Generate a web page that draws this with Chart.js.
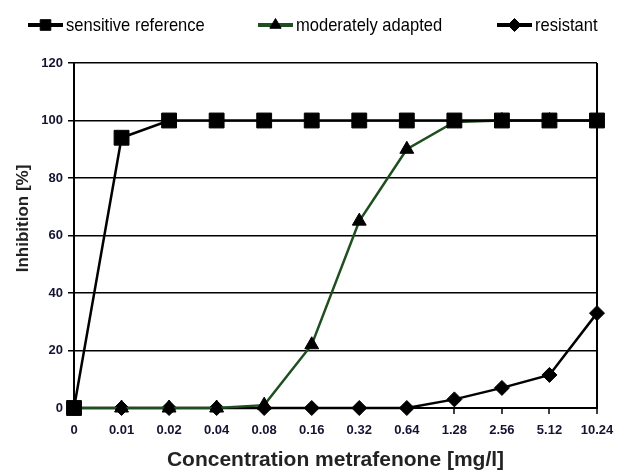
<!DOCTYPE html>
<html>
<head>
<meta charset="utf-8">
<script src="https://cdn.jsdelivr.net/npm/chart.js@4/dist/chart.umd.min.js"></script>
<style>
html,body{margin:0;padding:0;background:#fff;}
#wrap{width:617px;height:473px;position:relative;}
</style>
</head>
<body>
<div id="wrap"><canvas id="c" width="617" height="473"></canvas></div>
<script>
// ---- data ----
const categories = ['0','0.01','0.02','0.04','0.08','0.16','0.32','0.64','1.28','2.56','5.12','10.24'];
const sensitiveReference = [0, 94, 100, 100, 100, 100, 100, 100, 100, 100, 100, 100];
const moderatelyAdapted = [0, 0, 0, 0, 1, 22, 65, 90, 99.5, 100, 100, 100];
const resistant = [0, 0, 0, 0, 0, 0, 0, 0, 3, 7, 11.5, 33];
const yTicks = [0, 20, 40, 60, 80, 100, 120];
const seriesNames = ['sensitive reference', 'moderately adapted', 'resistant'];
const xTitle = 'Concentration metrafenone [mg/l]';
const yTitle = 'Inhibition [%]';

const FONT = '"Liberation Sans", Arial, Helvetica, sans-serif';
const TICK_COLOR = '#141432';

// legend drawn as line + marker, like the reference
const lineLegend = {
  id: 'lineLegend',
  afterDraw(chart) {
    const ctx = chart.ctx;
    const starts = [28, 258, 497];
    const y = 25;
    const lineW = 35;
    ctx.save();
    chart.data.datasets.forEach((ds, i) => {
      const x = starts[i];
      ctx.strokeStyle = ds.borderColor;
      ctx.lineWidth = 4;
      ctx.beginPath();
      ctx.moveTo(x, y);
      ctx.lineTo(x + lineW, y);
      ctx.stroke();
      ctx.fillStyle = '#000';
      ctx.strokeStyle = '#000';
      ctx.lineWidth = 1;
      Chart.helpers.drawPoint(ctx, {pointStyle: ds.pointStyle, radius: ds.pointStyle === 'rect' ? 7.5 : 6.5, borderWidth: 1, rotation: 0}, x + lineW / 2, y);
      // condensed text, like Arial Narrow in the reference
      ctx.save();
      ctx.translate(x + lineW + 3, y + 1);
      ctx.scale(0.87, 1);
      ctx.fillStyle = '#000';
      ctx.font = '19px ' + FONT;
      ctx.textBaseline = 'middle';
      ctx.textAlign = 'left';
      ctx.fillText(ds.label, 0, 0);
      ctx.restore();
    });
    ctx.restore();
  }
};

// y-axis title, placed where the reference has it (slightly above the plot centre)
const yAxisTitle = {
  id: 'yAxisTitle',
  afterDraw(chart) {
    const ctx = chart.ctx;
    const area = chart.chartArea;
    ctx.save();
    ctx.translate(23, (area.top + area.bottom) / 2 - 17);
    ctx.rotate(-Math.PI / 2);
    ctx.fillStyle = '#222';
    ctx.font = 'bold 17px ' + FONT;
    ctx.textAlign = 'center';
    ctx.textBaseline = 'middle';
    ctx.fillText(yTitle, 0, 0);
    ctx.restore();
  }
};

new Chart(document.getElementById('c'), {
  type: 'line',
  data: {
    labels: categories,
    datasets: [
      {
        label: seriesNames[0],
        data: sensitiveReference,
        borderColor: '#000',
        backgroundColor: '#000',
        borderWidth: 2.5,
        pointStyle: 'rect',
        pointRadius: 10.5,
        pointHoverRadius: 10.5,
        pointBackgroundColor: '#000',
        pointBorderColor: '#000',
        pointBorderWidth: 1,
        tension: 0,
        clip: false
      },
      {
        label: seriesNames[1],
        data: moderatelyAdapted,
        borderColor: '#1f4f1f',
        backgroundColor: '#000',
        borderWidth: 2.5,
        pointStyle: 'triangle',
        pointRadius: 8,
        pointHoverRadius: 8,
        pointBackgroundColor: '#000',
        pointBorderColor: '#000',
        pointBorderWidth: 1,
        tension: 0,
        clip: false
      },
      {
        label: seriesNames[2],
        data: resistant,
        borderColor: '#000',
        backgroundColor: '#000',
        borderWidth: 2.5,
        pointStyle: 'rectRot',
        pointRadius: 7.5,
        pointHoverRadius: 7.5,
        pointBackgroundColor: '#000',
        pointBorderColor: '#000',
        pointBorderWidth: 1,
        tension: 0,
        clip: false
      }
    ]
  },
  options: {
    responsive: false,
    animation: false,
    devicePixelRatio: 1,
    layout: { padding: { top: 63, right: 20, bottom: 0, left: 0 } },
    plugins: {
      legend: { display: false },
      tooltip: { enabled: false },
      title: { display: false }
    },
    scales: {
      x: {
        type: 'category',
        offset: false,
        grid: {
          display: true,
          drawOnChartArea: true,
          color: (c) => (c.index === categories.length - 1 ? '#000' : 'rgba(0,0,0,0)'),
          lineWidth: 2,
          tickLength: 6,
          tickColor: '#000',
          tickWidth: 1.5
        },
        border: { display: true, color: '#000', width: 2 },
        ticks: {
          color: TICK_COLOR,
          font: { family: FONT, size: 13, weight: 'bold' },
          padding: 9,
          maxRotation: 0,
          autoSkip: false
        },
        title: {
          display: true,
          text: xTitle,
          color: '#222',
          font: { family: FONT, size: 21, weight: 'bold' },
          padding: 0
        },
        afterFit: (s) => { s.height = 65; s.paddingLeft = 0; s.paddingRight = 0; }
      },
      y: {
        min: 0,
        max: 120,
        afterBuildTicks: (s) => { s.ticks = yTicks.map(v => ({ value: v })); },
        grid: {
          color: '#000',
          lineWidth: 1.5,
          tickLength: 6,
          tickColor: '#000'
        },
        border: { display: true, color: '#000', width: 2 },
        ticks: {
          color: TICK_COLOR,
          font: { family: FONT, size: 13, weight: 'bold' },
          padding: 5
        },
        title: { display: false, text: yTitle },
        afterFit: (s) => { s.width = 74; }
      }
    }
  },
  plugins: [lineLegend, yAxisTitle]
});
</script>
</body>
</html>
